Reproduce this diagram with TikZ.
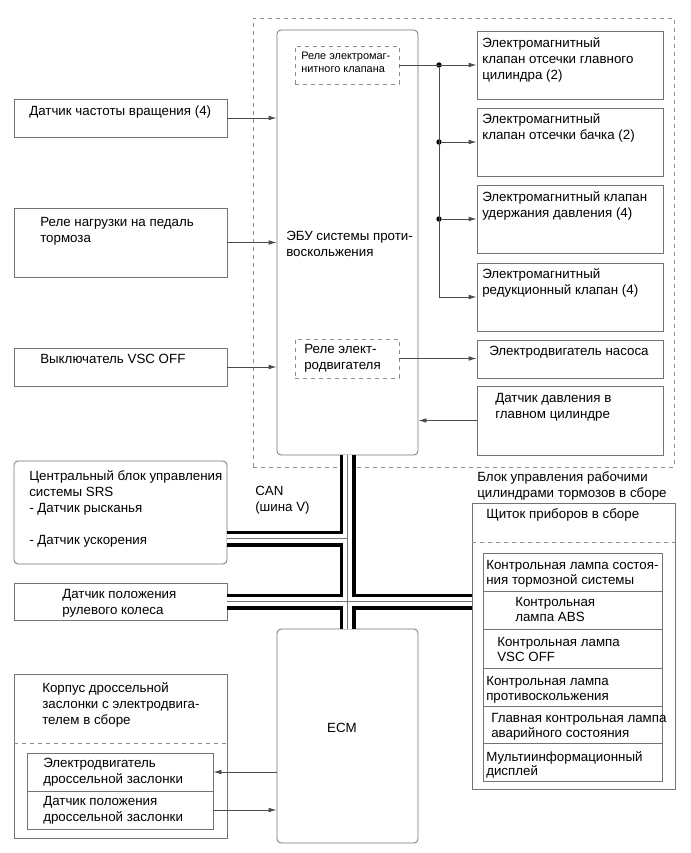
\documentclass[tikz,border=0pt]{standalone}
\usepackage{fontspec}
\setmainfont{Liberation Sans}
\usetikzlibrary{fit,arrows.meta}

\begin{document}
\begin{tikzpicture}[x=0.75pt, y=-0.75pt,
  box/.style={draw=black!55, line width=0.6pt, inner sep=0pt},
  rbox/.style={box, rounded corners=3pt},
  grp/.style={draw=black!45, dashed, line width=0.6pt, inner sep=0pt},
  txt/.style={anchor=north west, inner sep=0pt, align=left, font=\fontsize{10pt}{12pt}\selectfont},
  small/.style={txt, font=\fontsize{8.2pt}{9.75pt}\selectfont},
  lamp/.style={txt, font=\fontsize{10pt}{11pt}\selectfont},
  arr/.style={draw=black!70, line width=0.6pt, -{Latex[length=6pt,width=3.5pt]}},
  dot/.style={circle, fill=black, inner sep=0pt, minimum size=4pt},
  busouter/.style={line width=12pt, draw=black},
  businner/.style={line width=6.6pt, draw=white},
  buscore/.style={line width=0.6pt, draw=black!55}]
\useasboundingbox (0,0) rectangle (690,853);

\node[grp, fit={(253,18) (674,467)}] (abs) {};
\node[rbox, fit={(277,30) (418,455)}] (ecu) {};
\node[txt] (ecutxt) at (286,231) {ЭБУ системы проти-\\воскольжения};
\node[grp, fit={(295,46) (399,84)}] (relay1) {};
\node[small] (relay1txt) at (301,52) {Реле электромаг-\\нитного клапана};
\node[grp, fit={(295,339) (399,378)}] (relay2) {};
\node[txt] (relay2txt) at (304,344) {Реле элект-\\родвигателя};

\node[box, fit={(477,31) (663,99)}] (mv1) {};
\node[txt] (mv1txt) at (482,37) {Электромагнитный\\клапан отсечки главного\\цилиндра (2)};
\node[box, fit={(477,108) (663,176)}] (mv2) {};
\node[txt] (mv2txt) at (482,113) {Электромагнитный\\клапан отсечки бачка (2)};
\node[box, fit={(477,185) (663,253)}] (mv3) {};
\node[txt] (mv3txt) at (482,191) {Электромагнитный клапан\\удержания давления (4)};
\node[box, fit={(477,263) (663,331)}] (mv4) {};
\node[txt] (mv4txt) at (482,268) {Электромагнитный\\редукционный клапан (4)};
\node[box, fit={(477,340) (663,378)}] (pump) {};
\node[txt] (pumptxt) at (489,346) {Электродвигатель насоса};
\node[box, fit={(477,386) (663,455)}] (press) {};
\node[txt] (presstxt) at (495,393) {Датчик давления в\\главном цилиндре};

\node[box, fit={(14,99) (227,137)}] (speed) {};
\node[txt] (speedtxt) at (29,106) {Датчик частоты вращения (4)};
\node[box, fit={(14,208) (227,277)}] (pedal) {};
\node[txt] (pedaltxt) at (40,217) {Реле нагрузки на педаль\\тормоза};
\node[box, fit={(14,348) (227,386)}] (vsc) {};
\node[txt] (vsctxt) at (40,354) {Выключатель VSC OFF};

\node[rbox, fit={(14,461) (227,564)}] (srs) {};
\node[txt] (srstxt) at (29,470) {Центральный блок управления\\системы SRS\\- Датчик рысканья\\ \\- Датчик ускорения};
\node[txt] (cantxt) at (255,486) {CAN\\(шина V)};
\node[box, fit={(14,583) (227,620)}] (wheel) {};
\node[txt] (wheeltxt) at (62,589) {Датчик положения\\рулевого колеса};

\node[rbox, fit={(277,629) (418,843)}] (ecm) {};
\node[font=\fontsize{10pt}{12pt}\selectfont] (ecmtxt) at (342,728) {ECM};

\node[box, fit={(14,674) (227,838)}] (throttle) {};
\node[txt] (throttletxt) at (42,682) {Корпус дроссельной\\заслонки с электродвига-\\телем в сборе};
\draw[grp] (throttle.west |- 0,743) -- (throttle.east |- 0,743);
\node[box, fit={(27,753) (213,791)}] (thmotor) {};
\node[txt] (thmotortxt) at (43,758) {Электродвигатель\\дроссельной заслонки};
\node[box, fit={(27,791) (213,829)}] (thsensor) {};
\node[txt] (thsensortxt) at (43,796) {Датчик положения\\дроссельной заслонки};

\node[txt] (brakeunit) at (477,471) {Блок управления рабочими\\цилиндрами тормозов в сборе};
\node[box, fit={(472,503) (675,789)}] (cluster) {};
\node[txt] (clustertxt) at (486,508) {Щиток приборов в сборе};
\draw[grp] (cluster.west |- 0,542) -- (cluster.east |- 0,542);
\node[box, fit={(483,553) (662,591)}] (lamp1) {};
\node[lamp] (lamp1txt) at (486,560) {Контрольная лампа состоя-\\ния тормозной системы};
\node[box, fit={(483,591) (662,629)}] (lamp2) {};
\node[lamp] (lamp2txt) at (515,597) {Контрольная\\лампа ABS};
\node[box, fit={(483,629) (662,668)}] (lamp3) {};
\node[lamp] (lamp3txt) at (497,637) {Контрольная лампа\\VSC OFF};
\node[box, fit={(483,668) (662,706)}] (lamp4) {};
\node[lamp] (lamp4txt) at (486,676) {Контрольная лампа\\противоскольжения};
\node[box, fit={(483,706) (662,743)}] (lamp5) {};
\node[lamp] (lamp5txt) at (491,713) {Главная контрольная лампа\\аварийного состояния};
\node[box, fit={(483,743) (662,781)}] (lamp6) {};
\node[lamp] (lamp6txt) at (486,751) {Мультиинформационный\\дисплей};

\node[dot] (j1) at (439,65) {};
\node[dot] (j2) at (439,142) {};
\node[dot] (j3) at (439,219) {};
\draw[arr] (relay1) -- (mv1);
\draw[arr] (j2) -- (mv2);
\draw[arr] (j3) -- (mv3);
\draw[arr] (j1) |- (mv4);
\draw[arr] (relay2) -- (relay2 -| pump.west);
\draw[arr] (press) -- (press -| ecu.east);
\draw[arr] (speed) -- (speed -| ecu.west);
\draw[arr] (pedal) -- (pedal -| ecu.west);
\draw[arr] (vsc) -- (vsc -| ecu.west);
\draw[arr] (ecm.west |- thmotor) -- (thmotor);
\draw[arr] (thsensor) -- (thsensor -| ecm.west);

\coordinate (canA) at (347.5,538.5);
\draw[busouter] (ecu.south) -- (ecm.north) (srs.east |- canA) -- (canA) (wheel) -- (wheel -| cluster.west);
\draw[businner] (ecu.south) -- (ecm.north) (srs.east |- canA) -- (canA) (wheel) -- (wheel -| cluster.west);
\draw[buscore] (ecu.south) -- (ecm.north) (srs.east |- canA) -- (canA) (wheel) -- (wheel -| cluster.west);
\end{tikzpicture}
\end{document}
